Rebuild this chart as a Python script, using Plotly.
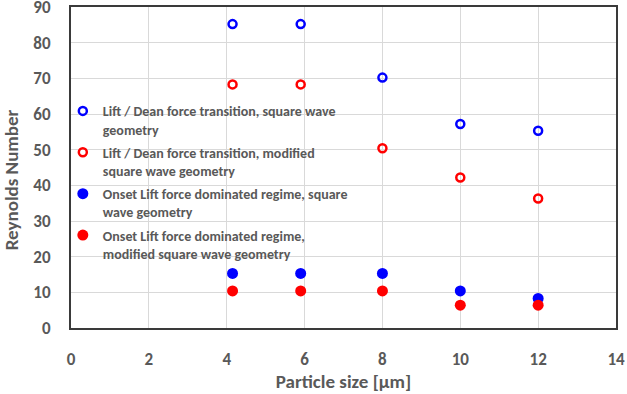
import plotly.graph_objects as go

# Data
particle_size = [4.15, 5.9, 8.0, 10.0, 12.0]
lift_dean_square = [85.2, 85.2, 70.2, 57.2, 55.3]
lift_dean_modified = [68.3, 68.3, 50.4, 42.2, 36.3]
onset_lift_square = [15.3, 15.3, 15.3, 10.4, 8.3]
onset_lift_modified = [10.4, 10.4, 10.4, 6.4, 6.4]

names = [
    "Lift / Dean force transition, square wave<br>geometry",
    "Lift / Dean force transition, modified<br>square wave geometry",
    "Onset Lift force dominated regime, square<br>wave geometry",
    "Onset Lift force dominated regime,<br>modified square wave geometry",
]
series = [lift_dean_square, lift_dean_modified, onset_lift_square, onset_lift_modified]
colors = ["#0000FF", "#FF0000", "#0000FF", "#FF0000"]
symbols = ["circle-open", "circle-open", "circle", "circle"]
sizes = [8, 8, 11, 11]

GRAY = "#595959"
FONT = "Carlito, Lato, 'Liberation Sans', Arial, sans-serif"

fig = go.Figure()
for i, (name, ys, c, s, sz) in enumerate(zip(names, series, colors, symbols, sizes)):
    fig.add_trace(go.Scatter(
        x=particle_size, y=ys, mode="markers", name=name, legendgroup=f"g{i}",
        marker=dict(color=c, symbol=s, size=sz, line=dict(color=c, width=2.5 if "open" in s else 0)),
        cliponaxis=False,
    ))

axis_common = dict(
    showgrid=True, gridcolor="#d9d9d9", gridwidth=1,
    zeroline=False, showline=True, linecolor="#3a3a3a", linewidth=2, mirror=True,
    ticks="outside", ticklen=15, tickcolor="rgba(0,0,0,0)",
    ticklabeloverflow="allow", automargin=False,
    tickfont=dict(family=FONT, size=17, color=GRAY, weight="bold"),
)

fig.update_layout(
    width=627, height=394,
    margin=dict(l=71, r=11, t=7, b=66, autoexpand=False),
    paper_bgcolor="white", plot_bgcolor="white",
    showlegend=True,
    legend=dict(
        x=-0.015, y=0.725, xanchor="left", yanchor="top",
        bgcolor="rgba(0,0,0,0)", valign="top",
        font=dict(family=FONT, size=14, color=GRAY, weight="bold"),
        itemwidth=30, tracegroupgap=2,
    ),
    xaxis=dict(range=[0, 14], dtick=2, tick0=0,
               title=dict(text="Particle size [µm]", standoff=0,
                          font=dict(family=FONT, size=19, color=GRAY, weight="bold")),
               **axis_common),
    yaxis=dict(range=[0, 90], dtick=10, tick0=0, **axis_common),
    annotations=[dict(
        text="Reynolds Number", xref="paper", yref="paper",
        x=0, y=0.46, xanchor="center", yanchor="middle", xshift=-60,
        textangle=-90, showarrow=False,
        font=dict(family=FONT, size=19, color=GRAY, weight="bold"),
    )],
)

fig.write_html("out.html")
